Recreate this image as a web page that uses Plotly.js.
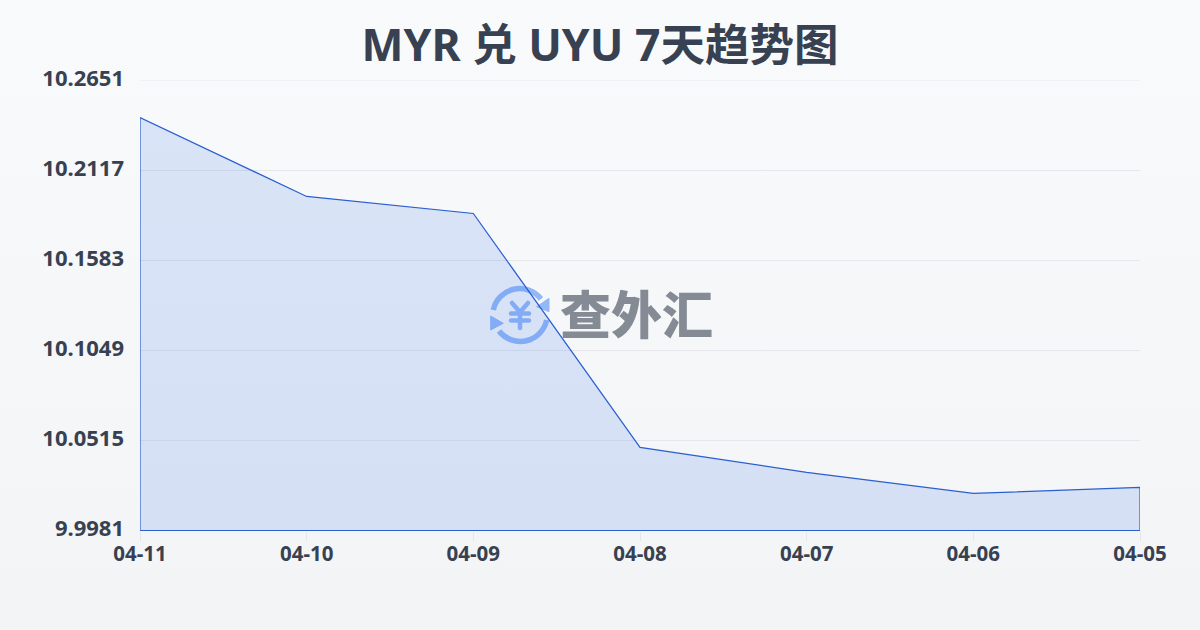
<!DOCTYPE html>
<html><head><meta charset="utf-8">
<script src="https://cdn.plot.ly/plotly-3.0.1.min.js"></script>
<style>
html,body{margin:0;padding:0;width:1200px;height:630px;overflow:hidden;background:linear-gradient(180deg,#f9fafb 0%,#f3f4f6 100%);}
#chart{width:1200px;height:630px;}
</style></head><body><div id="chart"></div>
<script>
const dates = ['04-11','04-10','04-09','04-08','04-07','04-06','04-05'];
const rates = [10.2428,10.1960,10.1859,10.0471,10.0323,10.0198,10.0234];
const yTicks = [9.9981,10.0515,10.1049,10.1583,10.2117,10.2651];
const yLabels = ['9.9981','10.0515','10.1049','10.1583','10.2117','10.2651'];
const titleText = 'MYR 兑 UYU 7天趋势图';
const watermarkText = '查外汇';

const idx = dates.map((d,i)=>i);
const pxUnit = (yTicks[5]-yTicks[0])/450;
const base = yTicks[0] - pxUnit/2;
const closedX = idx.concat([idx[idx.length-1], 0, 0]);
const closedY = rates.concat([base, base, rates[0]]);

const logo = `<svg xmlns="http://www.w3.org/2000/svg" width="64" height="64" viewBox="0 0 64 64">
<g fill="none" stroke="#93b8f8" stroke-width="5.5">
<path d="M5.3 27 A27 27 0 0 1 53 16"/>
<path d="M58.7 37 A27 27 0 0 1 11 48"/></g>
<path d="M61 15.3 L61 28.7 L48.7 23.7 Z" fill="#93b8f8" stroke="#93b8f8" stroke-width="1" stroke-linejoin="round"/>
<path d="M2.7 33 L2.7 47 L15.3 40.3 Z" fill="#93b8f8" stroke="#93b8f8" stroke-width="1" stroke-linejoin="round"/>
<g fill="none" stroke="#93b8f8" stroke-width="4.5" stroke-linecap="round">
<path d="M24 20 L32 29 L40 20"/><path d="M32 29 L32 45"/><path d="M23 30.5 L41 30.5"/><path d="M23 37.5 L41 37.5"/></g>
</svg>`;

Plotly.newPlot('chart',[{
  x: closedX, y: closedY, type:'scatter', mode:'lines',
  fill:'toself', fillcolor:'rgba(37,99,235,0.14)',
  line:{color:'#2a5fd0',width:1.2}, hoverinfo:'skip', showlegend:false
}],{
  width:1200,height:630,
  paper_bgcolor:'rgba(0,0,0,0)',plot_bgcolor:'rgba(0,0,0,0)',
  margin:{l:140,r:60,t:80,b:99},
  title:{text:titleText,x:0.5,xanchor:'center',y:0.928,yanchor:'middle',
    font:{family:'"Noto Sans","Noto Sans CJK SC",sans-serif',size:44.5,weight:700,color:'#374151'}},
  xaxis:{range:[0,6],tickmode:'array',tickvals:idx,ticktext:dates,showgrid:false,zeroline:false,showline:false,
    ticks:'outside',ticklen:9,tickwidth:1,tickcolor:'#e5e7eb',ticklabelstandoff:-5,
    tickfont:{family:'"Noto Sans",sans-serif',size:20.5,weight:700,color:'#374151'},automargin:false},
  yaxis:{range:[yTicks[0]-pxUnit,yTicks[5]],tickmode:'array',tickvals:yTicks,ticktext:yLabels,showgrid:true,gridcolor:'#e5e7eb',gridwidth:1,zeroline:false,showline:false,
    ticks:'',ticklabelstandoff:15,ticklabelshift:-2,
    tickfont:{family:'"Noto Sans",sans-serif',size:22,weight:700,color:'#374151'},automargin:false},
  shapes:[{type:'line',layer:'below',xref:'paper',x0:0,x1:1,yref:'y',y0:yTicks[5],y1:yTicks[5],line:{color:'#e5e7eb',width:1}}],
  images:[{source:'data:image/svg+xml;utf8,'+encodeURIComponent(logo),xref:'paper',yref:'paper',
    x:(520-140)/1000,y:(531-315)/451,sizex:64/1000,sizey:64/451,xanchor:'center',yanchor:'middle',sizing:'contain',layer:'below'}],
  annotations:[{text:watermarkText,xref:'paper',yref:'paper',x:(636-140)/1000,y:(531-312)/451,xanchor:'center',yanchor:'middle',showarrow:false,
    font:{family:'"Noto Sans CJK SC",sans-serif',size:51,weight:900,color:'#858b95'}}]
},{displayModeBar:false,staticPlot:true});
</script></body></html>
